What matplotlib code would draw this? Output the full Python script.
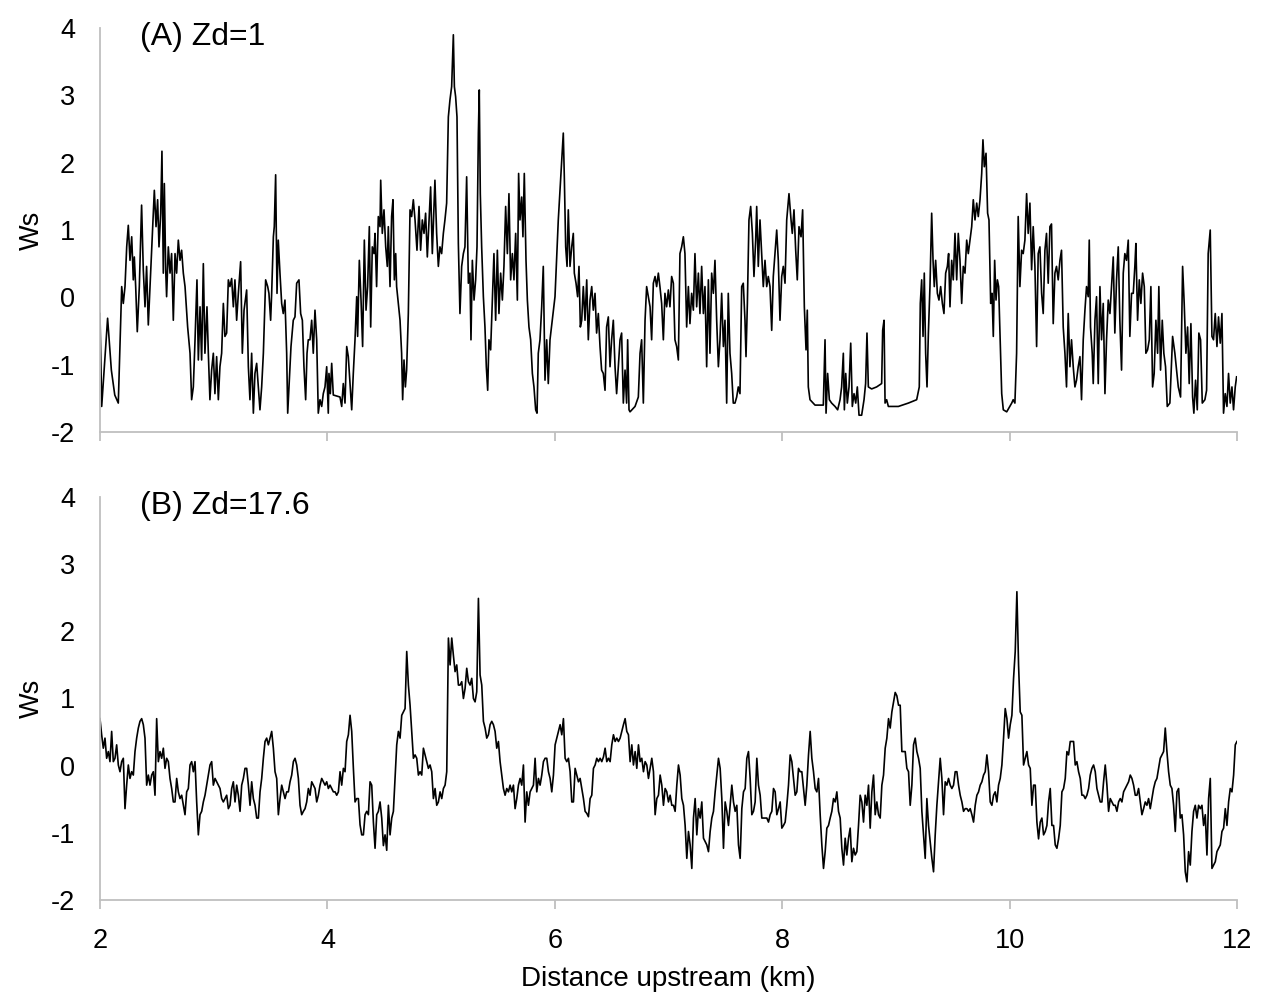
import numpy as np
import matplotlib
matplotlib.use("Agg")
from matplotlib import pyplot as plt

# Panel A (Zd=1): distance (km) and Ws
dist_a = [
    2.000, 2.015, 2.067, 2.100, 2.130, 2.161, 2.191, 2.205, 2.220, 2.235, 2.249, 2.264, 2.279, 2.293, 2.302,
    2.314, 2.328, 2.346, 2.366, 2.381, 2.396, 2.410, 2.425, 2.440, 2.454, 2.478, 2.493, 2.507, 2.519, 2.534,
    2.545, 2.557, 2.566, 2.578, 2.586, 2.601, 2.616, 2.630, 2.645, 2.660, 2.674, 2.689, 2.704, 2.718, 2.733,
    2.748, 2.771, 2.792, 2.806, 2.821, 2.836, 2.853, 2.865, 2.880, 2.894, 2.909, 2.923, 2.941, 2.953, 2.967,
    2.982, 2.997, 3.011, 3.026, 3.041, 3.055, 3.070, 3.085, 3.099, 3.114, 3.129, 3.143, 3.158, 3.173, 3.187,
    3.202, 3.217, 3.237, 3.252, 3.267, 3.290, 3.305, 3.319, 3.334, 3.349, 3.363, 3.378, 3.393, 3.407, 3.422,
    3.437, 3.457, 3.475, 3.486, 3.501, 3.510, 3.525, 3.533, 3.545, 3.557, 3.568, 3.583, 3.598, 3.612, 3.627,
    3.642, 3.651, 3.665, 3.680, 3.700, 3.715, 3.730, 3.750, 3.765, 3.780, 3.794, 3.809, 3.821, 3.832, 3.847,
    3.862, 3.876, 3.891, 3.906, 3.920, 3.935, 3.950, 3.964, 3.979, 3.994, 4.008,
    4.014, 4.026, 4.038, 4.052, 4.111, 4.126, 4.140, 4.155, 4.170, 4.184, 4.199, 4.214, 4.228, 4.243, 4.258,
    4.266, 4.281, 4.296, 4.310, 4.325, 4.340, 4.354, 4.369, 4.381, 4.395, 4.410, 4.419, 4.433, 4.448, 4.463,
    4.469, 4.483, 4.498, 4.513, 4.527, 4.536, 4.551, 4.565, 4.577, 4.589, 4.601, 4.609, 4.624, 4.639, 4.653,
    4.662, 4.674, 4.686, 4.697, 4.712, 4.727, 4.741, 4.756, 4.771, 4.788, 4.806, 4.820, 4.835, 4.850, 4.864,
    4.879, 4.894, 4.908, 4.923, 4.935, 4.946, 4.961, 4.976, 4.990, 5.005, 5.020, 5.034, 5.049, 5.064, 5.078,
    5.093, 5.108, 5.117, 5.128, 5.140, 5.152, 5.166, 5.181, 5.196, 5.210, 5.225, 5.240, 5.254, 5.263, 5.275,
    5.290, 5.304, 5.316, 5.328, 5.336, 5.345, 5.357, 5.372, 5.386, 5.398, 5.410, 5.421, 5.436, 5.451, 5.465,
    5.480, 5.495, 5.509, 5.524, 5.539, 5.553, 5.568, 5.583, 5.597, 5.612, 5.627, 5.641, 5.656, 5.671, 5.682,
    5.694, 5.709, 5.720, 5.732, 5.747, 5.759, 5.773, 5.788, 5.803, 5.817, 5.832, 5.844, 5.855, 5.870, 5.885,
    5.899, 5.914, 5.929, 5.943, 5.958,
    6.002, 6.031, 6.075, 6.084, 6.096, 6.108, 6.119, 6.134, 6.149, 6.163, 6.172, 6.187, 6.201, 6.213, 6.225,
    6.237, 6.251, 6.266, 6.281, 6.295, 6.310, 6.325, 6.339, 6.354, 6.368, 6.383, 6.398, 6.412, 6.427, 6.442,
    6.456, 6.471, 6.486, 6.500, 6.515, 6.530, 6.544, 6.559, 6.574, 6.588, 6.603, 6.618, 6.632, 6.641, 6.653,
    6.662, 6.706, 6.735, 6.750, 6.764, 6.779, 6.794, 6.808, 6.823, 6.838, 6.852, 6.867, 6.882, 6.896, 6.911,
    6.925, 6.940, 6.955, 6.969, 6.984, 6.999, 7.013, 7.028, 7.043, 7.057, 7.072, 7.087, 7.101, 7.116, 7.131,
    7.145, 7.160, 7.175, 7.189, 7.204, 7.219, 7.233, 7.248, 7.263, 7.277, 7.292, 7.307, 7.321, 7.336, 7.351,
    7.365, 7.380, 7.395, 7.409, 7.424, 7.439, 7.453, 7.468, 7.483, 7.497, 7.512, 7.526, 7.541, 7.556, 7.570,
    7.585, 7.600, 7.614, 7.629, 7.644, 7.658, 7.673, 7.682, 7.694, 7.708, 7.723, 7.738, 7.752, 7.767, 7.776,
    7.790, 7.805, 7.820, 7.834, 7.849, 7.864, 7.878, 7.893, 7.908, 7.922, 7.937, 7.952, 7.966, 7.981, 7.996,
    8.010,
    8.025, 8.040, 8.060, 8.078, 8.089, 8.104, 8.119, 8.133, 8.148, 8.166, 8.180, 8.195, 8.210, 8.221, 8.230,
    8.245, 8.289, 8.362, 8.377, 8.386, 8.400, 8.415, 8.435, 8.465, 8.488, 8.509, 8.523, 8.538, 8.547, 8.559,
    8.573, 8.588, 8.603, 8.617, 8.632, 8.647, 8.661, 8.676, 8.699, 8.720, 8.734, 8.746, 8.758, 8.787, 8.831,
    8.875, 8.884, 8.896, 8.905, 8.919, 8.934, 9.022, 9.110, 9.183, 9.206, 9.215, 9.227, 9.239, 9.250, 9.262,
    9.274, 9.286, 9.300, 9.315, 9.327, 9.338, 9.350, 9.365, 9.379, 9.394, 9.409, 9.423, 9.438, 9.453, 9.464,
    9.476, 9.491, 9.505, 9.520, 9.535, 9.549, 9.564, 9.579, 9.593, 9.608, 9.623, 9.637, 9.652, 9.667, 9.681,
    9.696, 9.711, 9.725, 9.740, 9.755, 9.766, 9.778, 9.793, 9.807, 9.819, 9.834, 9.846, 9.857, 9.869, 9.881,
    9.893, 9.904, 9.916, 9.931, 9.945, 9.975, 10.019,
    10.032, 10.047, 10.062, 10.076, 10.091, 10.106, 10.120, 10.135, 10.150, 10.164, 10.179, 10.194, 10.208,
    10.223, 10.238, 10.252, 10.267, 10.282, 10.296, 10.311, 10.325, 10.340, 10.355, 10.369, 10.384, 10.399,
    10.413, 10.428, 10.443, 10.457, 10.472, 10.487, 10.501, 10.516, 10.531, 10.545, 10.560, 10.575, 10.589,
    10.604, 10.619, 10.633, 10.648, 10.663, 10.677, 10.692, 10.701, 10.712, 10.727, 10.736, 10.751, 10.765,
    10.780, 10.795, 10.809, 10.824, 10.839, 10.853, 10.868, 10.883, 10.897, 10.912, 10.926, 10.941, 10.956,
    10.970, 10.985, 11.000, 11.014, 11.029, 11.044, 11.058, 11.073, 11.088, 11.102, 11.111, 11.126, 11.141,
    11.155, 11.170, 11.185, 11.199, 11.214, 11.229, 11.243, 11.258, 11.272, 11.287, 11.302, 11.313, 11.328,
    11.343, 11.357, 11.372, 11.387, 11.410, 11.434, 11.454, 11.484, 11.504, 11.522, 11.536, 11.551, 11.566,
    11.580, 11.595, 11.610, 11.621, 11.636, 11.651, 11.665, 11.680, 11.695, 11.718, 11.733, 11.747, 11.765,
    11.780, 11.794, 11.809, 11.824, 11.838, 11.853, 11.868, 11.882, 11.897, 11.912, 11.926, 11.941, 11.956,
    11.970, 11.985, 11.997,
]
ws_a = [
    -0.24, -1.62, -0.31, -1.08, -1.45, -1.57, 0.16, -0.09, 0.16, 0.75, 1.07, 0.55, 0.90, 0.26, 0.60,
    0.16, -0.51, 0.16, 1.37, 0.41, -0.14, 0.46, -0.41, 0.16, 0.70, 1.59, 1.05, 1.45, 0.75, 1.25,
    2.17, 0.36, 1.69, 0.41, 0.01, 0.75, 0.36, 0.65, -0.34, 0.65, 0.36, 0.85, 0.55, 0.70, 0.36,
    0.16, -0.44, -0.83, -1.52, -1.33, -0.63, 0.26, -0.93, -0.14, -0.93, 0.50, -0.83, -0.14, -0.83, -1.52,
    -1.08, -0.83, -1.43, -0.88, -1.52, -1.03, -0.83, -0.09, -0.58, -0.53, 0.26, 0.16, 0.28, -0.14, 0.26,
    -0.34, 0.06, 0.53, -0.83, -0.19, 0.11, -1.03, -1.52, -0.83, -1.72, -1.13, -0.98, -1.33, -1.67, -1.33,
    -0.83, 0.26, 0.16, 0.06, -0.34, 0.06, 0.90, 1.05, 1.82, 0.06, 0.85, 0.36, -0.09, -0.24, -0.04,
    -0.83, -1.72, -1.23, -0.73, -0.34, -0.29, 0.21, 0.26, -0.24, -0.34, -1.03, -1.52, -0.83, -0.63, -0.63,
    -0.34, -0.83, -0.19, -0.63, -1.72, -1.52, -1.62, -1.43, -1.33, -1.03, -1.72,
    -1.13, -1.43, -0.98, -1.45, -1.48, -1.62, -1.28, -1.57, -0.73, -0.88, -1.28, -1.67, -1.13, -0.63, 0.01,
    -0.58, 0.55, -0.04, -0.73, 0.85, -0.19, 0.16, 1.05, -0.44, 0.75, 0.65, 0.95, 0.16, 1.20, 1.05,
    1.74, 0.95, 1.30, 0.75, 0.46, 1.05, 0.16, 1.20, 1.45, 0.26, 0.65, 0.16, -0.09, -0.34, -0.83,
    -1.52, -0.93, -1.33, -1.08, -0.24, 1.30, 1.20, 1.45, 1.15, 0.70, 1.35, 0.70, 1.15, 0.95, 1.25,
    0.60, 1.15, 1.64, 0.65, 1.20, 1.74, 0.95, 0.46, 0.75, 0.65, 0.95, 1.15, 1.40, 2.68, 2.93,
    3.13, 3.90, 3.13, 2.98, 2.68, 0.80, -0.24, 0.46, 0.65, 0.75, 1.79, 0.21, 0.36, -0.63, 0.55,
    -0.04, 0.26, 0.75, 2.44, 3.08, 1.54, 0.75, 0.01, -0.44, -1.03, -1.38, -0.63, -0.78, -0.04, 0.65,
    -0.34, 0.70, -0.24, 0.36, -0.04, 0.46, 1.35, 0.65, 1.54, 0.26, 0.65, 0.26, 0.95, -0.04, 1.84,
    1.15, 1.49, 0.90, 1.84, 0.55, -0.04, -0.44, -0.63, -1.13, -1.33, -1.67, -1.72, -0.83, -0.63, -0.14,
    0.46, -1.23, -0.63, -1.28, -0.63,
    0.01, 1.15, 2.44, 1.79, 0.75, 0.46, 1.30, 0.46, 0.75, 0.95, 0.36, 0.21, 0.01, 0.46, -0.44,
    -0.34, 0.16, -0.34, 0.26, -0.63, -0.04, 0.16, -0.19, 0.06, -0.53, -0.24, -0.73, -1.08, -1.13, -1.38,
    -0.44, -0.29, -1.03, -0.63, -0.34, -1.03, -1.43, -1.03, -0.63, -0.53, -1.57, -1.08, -1.57, -0.63, -1.67,
    -1.70, -1.62, -1.48, -0.83, -0.63, -1.57, -0.34, 0.16, 0.01, -0.14, -0.63, 0.21, 0.31, 0.16, 0.36,
    0.16, -0.09, -0.63, 0.06, -0.14, 0.11, -0.14, 0.31, 0.21, -0.63, -0.73, -0.93, 0.65, 0.75, 0.90,
    0.65, -0.44, 0.16, -0.39, 0.06, -0.19, 0.65, -0.14, 0.36, -0.24, 0.46, -0.24, 0.16, -1.03, 0.26,
    -0.83, 0.36, 0.06, 0.55, -0.34, -1.03, -0.63, 0.06, -0.73, -0.34, -1.57, 0.06, -0.83, -1.13, -1.57,
    -1.57, -1.48, -1.33, -1.43, 0.16, 0.21, -0.34, -0.88, -0.09, 1.15, 1.35, 0.95, 0.31, 0.85, 1.35,
    0.46, 1.15, 0.65, 0.16, 0.55, 0.16, 0.31, 0.16, -0.49, 0.31, 0.65, 1.00, 0.55, -0.34, 0.31,
    0.46,
    0.21, 1.15, 1.54, 1.15, 0.95, 1.30, 0.70, 0.26, 1.05, 0.90, 1.30, -0.14, -0.78, -0.19, -1.33,
    -1.52, -1.60, -1.60, -0.63, -1.72, -1.13, -1.52, -1.57, -1.62, -1.67, -1.52, -1.33, -0.83, -1.67, -1.13,
    -1.57, -1.33, -0.68, -1.62, -1.43, -1.57, -1.33, -1.75, -1.75, -1.52, -1.28, -0.53, -1.33, -1.36, -1.33,
    -1.28, -0.49, -0.34, -1.57, -1.52, -1.62, -1.62, -1.57, -1.52, -1.33, -0.09, 0.26, -0.58, 0.36, -0.83,
    -1.33, -0.53, 0.16, 1.25, 0.55, 0.16, 0.55, 0.06, -0.04, 0.16, -0.09, -0.24, 0.36, 0.46, 0.65,
    -0.14, 0.55, 0.26, 0.95, 0.26, 0.95, 0.55, -0.09, 0.46, 0.36, 0.85, 0.65, 0.85, 1.05, 1.45,
    1.15, 1.40, 1.20, 1.45, 1.84, 2.34, 1.94, 2.14, 1.25, 1.15, -0.09, 0.06, -0.58, 0.55, -0.04,
    0.26, 0.16, -0.53, -1.43, -1.67, -1.70, -1.57,
    -1.52, -1.57, -0.83, 1.20, 0.16, 0.70, 0.65, 0.85, 1.54, 0.95, 1.40, 0.41, 1.05,
    0.46, -0.73, 0.65, 0.75, 0.06, -0.24, 0.70, 0.95, 0.21, 1.05, 1.09, -0.39, 0.36,
    0.46, 0.26, 0.55, 0.70, -0.44, -0.83, -1.33, -0.24, -1.03, -0.63, -1.03, -1.33, -1.23,
    -1.03, -0.88, -1.52, -0.63, -0.19, 0.16, 0.01, 0.85, -0.44, -0.83, -1.28, -0.34, 0.01,
    -1.28, 0.16, -0.63, -0.09, -1.43, -0.63, -0.04, -0.24, 0.16, 0.60, -0.53, 0.26, 0.75,
    -0.34, -1.08, 0.36, 0.65, 0.55, 0.85, -0.58, 0.06, 0.06, 0.46, 0.80, -0.34, 0.26,
    -0.09, 0.36, 0.16, -0.83, -0.78, -0.63, 0.16, -1.33, -1.13, -0.34, -0.83, 0.16, -1.08,
    -0.34, -0.83, -1.03, -1.62, -1.57, -0.58, -0.83, -1.33, -1.48, 0.46, -0.09, -0.83, -0.44,
    -1.28, -0.39, -1.48, -1.72, -1.23, -1.67, -0.53, -0.63, -1.57, -1.52, -1.38, 0.65, 1.00,
    -0.58, -0.63, -0.24, -0.73, -0.29, -0.68, -0.24, -1.72, -1.43, -1.62, -1.13, -1.57, -1.33,
    -1.67, -1.33, -1.18,
]

# Panel B (Zd=17.6): Ws at evenly spaced stations from 2 to 12 km
ws_b = [
    0.70, 0.46, 0.26, 0.41, 0.11, 0.21, 0.06, 0.51, 0.06, 0.11, 0.31, 0.01, -0.09, 0.06, 0.11,
    -0.64, -0.29, 0.01, -0.19, -0.09, -0.14, 0.21, 0.41, 0.56, 0.66, 0.70, 0.61, 0.41, -0.29, -0.14,
    -0.29, -0.14, -0.09, -0.44, 0.70, 0.06, 0.21, 0.11, 0.26, -0.04, 0.11, 0.06, -0.19, -0.34, -0.54,
    -0.54, -0.19, -0.39, -0.49, -0.44, -0.59, -0.73, -0.39, -0.34, 0.01, 0.06, -0.09, 0.06, -0.54, -1.03,
    -0.73, -0.68, -0.54, -0.44, -0.29, -0.14, 0.01, 0.06, -0.29, -0.19, -0.24, -0.29, -0.34, -0.49, -0.54,
    -0.49, -0.44, -0.64, -0.59, -0.34, -0.24, -0.54, -0.29, -0.44, -0.68, -0.29, -0.19, -0.04, -0.04, -0.29,
    -0.59, -0.24, -0.49, -0.59, -0.78, -0.78, -0.39, -0.19, 0.11, 0.36, 0.41, 0.31, 0.41, 0.51, 0.26,
    -0.09, -0.19, -0.73, -0.49, -0.29, -0.39, -0.49, -0.39, -0.39, -0.24, -0.14, 0.06, 0.11, 0.01, -0.19,
    -0.59, -0.73, -0.68, -0.64, -0.54, -0.34, -0.44, -0.24, -0.29, -0.34, -0.54, -0.44, -0.29, -0.19, -0.24,
    -0.29, -0.24, -0.34, -0.29, -0.34, -0.39, -0.39, -0.44, -0.39, -0.09, -0.29, -0.04, -0.09, 0.36, 0.46,
    0.75, 0.51, -0.04, -0.54, -0.49, -0.49, -0.88, -1.03, -1.03, -0.73, -0.68, -0.73, -0.24, -0.29, -0.84,
    -1.23, -0.73, -0.68, -0.54, -0.78, -1.19, -1.03, -1.26, -0.59, -1.03, -0.78, -0.68, -0.19, 0.31, 0.51,
    0.41, 0.75, 0.80, 0.85, 1.70, 1.20, 0.90, 0.51, 0.11, 0.16, 0.11, -0.14, -0.09, -0.14, 0.26,
    0.16, 0.06, -0.04, 0.01, -0.09, -0.49, -0.34, -0.59, -0.54, -0.39, -0.49, -0.34, -0.29, -0.09, 1.90,
    1.50, 1.90, 1.64, 1.40, 1.50, 1.20, 1.20, 1.25, 1.00, 1.15, 1.45, 1.25, 1.20, 1.30, 1.00,
    0.95, 1.10, 2.49, 1.35, 1.20, 0.66, 0.56, 0.41, 0.46, 0.61, 0.66, 0.61, 0.51, 0.26, 0.36,
    0.06, -0.14, -0.34, -0.44, -0.34, -0.39, -0.29, -0.39, -0.29, -0.64, -0.49, -0.29, -0.19, -0.29, 0.01,
    -0.84, -0.39, -0.59, -0.39, -0.34, -0.29, 0.11, -0.39, -0.19, -0.29, -0.14, 0.06, 0.11, 0.11, -0.09,
    -0.19, -0.39, -0.14,
    0.31, 0.41, 0.51, 0.61, 0.46, 0.70, 0.11, 0.06, 0.11, -0.09, -0.54, -0.54, -0.04, -0.14, -0.24,
    -0.19, -0.34, -0.49, -0.68, -0.71, -0.76, -0.49, -0.44, -0.04, 0.01, 0.11, 0.06, 0.11, 0.06, 0.13,
    0.26, 0.06, 0.11, 0.06, 0.31, 0.46, 0.36, 0.41, 0.36, 0.41, 0.51, 0.61, 0.70, 0.51, 0.46,
    0.06, 0.31, 0.01, 0.21, -0.04, 0.31, 0.06, 0.11, -0.09, 0.06, 0.01, -0.19, -0.04, 0.11, -0.09,
    -0.73, -0.49, -0.44, -0.14, -0.29, -0.59, -0.34, -0.39, -0.54, -0.44, -0.59, -0.59, -0.68, -0.29, 0.01,
    -0.14, -0.49, -0.59, -0.89, -1.38, -0.98, -1.18, -1.53, -0.78, -0.49, -1.03, -0.64, -0.78, -0.54, -1.08,
    -1.13, -1.18, -1.28, -0.98, -0.78, -0.68, -0.39, -0.14, 0.11, -0.04, -0.49, -1.23, -0.54, -0.68, -0.89,
    -0.59, -0.29, -0.54, -0.68, -0.59, -1.18, -1.38, -0.64, -0.39, -0.34, 0.11, 0.21, -0.19, -0.73, -0.68,
    -0.54, 0.11, -0.29, -0.44, -0.78, -0.78, -0.78, -0.78, -0.84, -0.73, -0.68, -0.34, -0.39, -0.73, -0.64,
    -0.54, -0.93, -0.89,
    -0.84, -0.59, -0.29, 0.16, 0.06, -0.19, -0.44, -0.39, -0.04, -0.09, -0.09, -0.34, -0.59, -0.29, 0.16,
    0.51, 0.11, -0.09, -0.34, -0.39, -0.19, -0.73, -1.18, -1.53, -1.28, -0.93, -0.89, -0.78, -0.68, -0.49,
    -0.54, -0.39, -0.68, -0.78, -1.23, -1.48, -1.08, -1.33, -1.08, -0.93, -1.43, -1.23, -1.33, -1.28, -0.89,
    -0.44, -0.54, -0.84, -0.44, -0.59, -0.29, -0.93, -0.39, -0.14, -0.73, -0.54, -0.73, -0.78, -0.29, -0.14,
    0.26, 0.41, 0.70, 0.56, 0.80, 0.95, 1.09, 1.04, 0.90, 0.90, 0.21, 0.21, 0.21, -0.04, -0.09,
    -0.59, -0.29, 0.31, 0.41, 0.21, 0.11, -0.04, -0.68, -1.03, -1.38, -0.49, -0.89, -1.13, -1.38, -1.58,
    -1.03, -0.59, -0.24, 0.11, -0.19, -0.73, -0.24, -0.29, -0.19, -0.29, -0.34, -0.29, -0.09, -0.09, -0.29,
    -0.44, -0.54, -0.68, -0.64, -0.64, -0.68, -0.64, -0.73, -0.84, -0.59, -0.44, -0.39, -0.29, -0.24, -0.14,
    -0.09, 0.16, -0.09, -0.54, -0.59, -0.44, -0.39, -0.54, -0.29, -0.19, 0.01, 0.41, 0.85, 0.70, 0.41,
    0.61, 0.75, 1.30, 1.70, 2.59, 1.50, 0.80, 0.75, 0.01, 0.11, 0.21, 0.01, -0.04, -0.59, -0.29,
    -0.29, -0.84, -1.09, -0.84, -0.78, -1.03, -0.98, -0.89, -0.54, -0.34, -0.89, -0.89, -1.18, -1.23, -1.09,
    -0.89, -0.39, -0.34, -0.19, 0.21, 0.16, 0.36, 0.36, 0.36, 0.01, 0.06, -0.09, -0.19, -0.44, -0.44,
    -0.49, -0.44, -0.34, -0.14, -0.04, 0.01, -0.09, -0.34, -0.44, -0.54, -0.54, -0.24, 0.01, -0.29, -0.68,
    -0.49, -0.54, -0.59, -0.59, -0.68, -0.54, -0.49, -0.54, -0.39, -0.34, -0.29, -0.24, -0.14, -0.19, -0.29,
    -0.44, -0.44, -0.34, -0.54, -0.73, -0.64, -0.54, -0.59, -0.49, -0.64, -0.49, -0.34, -0.24, -0.19, -0.04,
    0.11, 0.16, 0.21, 0.56, 0.21, -0.09, -0.29, -0.34, -0.59, -0.98, -0.39, -0.34, -0.78, -0.73, -1.03,
    -1.58, -1.73, -1.28, -1.48, -0.98, -0.68, -0.59, -0.78, -0.59, -0.64, -0.59, -0.89, -0.73, -1.33, -0.49,
    -0.19, -1.53, -1.48, -1.43, -1.28, -1.23, -1.18, -0.98, -0.93, -0.64, -0.89, -0.54, -0.34, -0.39, -0.14,
    0.31, 0.36,
]
dist_b = np.linspace(2, 12, len(ws_b))

panel_titles = ["(A) Zd=1", "(B) Zd=17.6"]
x_ticks = [2, 4, 6, 8, 10, 12]
y_ticks = [-2, -1, 0, 1, 2, 3, 4]

plt.rcParams['font.family'] = ['Liberation Sans', 'DejaVu Sans']
plt.rcParams['axes.unicode_minus'] = False

fig = plt.figure(figsize=(12.64, 10.01), dpi=100)
ax_a = fig.add_axes([0.0791, 0.5684, 0.8995, 0.4036])
ax_b = fig.add_axes([0.0791, 0.1009, 0.8995, 0.4026])

ax_a.plot(dist_a, ws_a, color='black', lw=1.2)
ax_b.plot(dist_b, ws_b, color='black', lw=1.2)

grey = '#BFBFBF'
for ax, title in zip([ax_a, ax_b], panel_titles):
    ax.set_xlim(2, 12)
    ax.set_ylim(-2, 4)
    ax.set_xticks(x_ticks)
    ax.set_yticks(y_ticks)
    for side in ['top', 'right']:
        ax.spines[side].set_visible(False)
    for side in ['left', 'bottom']:
        ax.spines[side].set_color(grey)
        ax.spines[side].set_linewidth(1.3)
    ax.tick_params(axis='x', direction='out', length=6.5, width=1.3, color=grey,
                   labelsize=19.5, pad=14)
    ax.tick_params(axis='y', length=0, labelsize=19.5, pad=18)
    ax.set_ylabel("Ws", fontsize=19.5, labelpad=4)
    ax.text(0.035, 0.957, title, transform=ax.transAxes, fontsize=23, va='baseline')

ax_a.tick_params(axis='x', labelbottom=False)
ax_b.set_xlabel("Distance upstream (km)", fontsize=20, labelpad=8)

fig.savefig("out.png", dpi=100)
